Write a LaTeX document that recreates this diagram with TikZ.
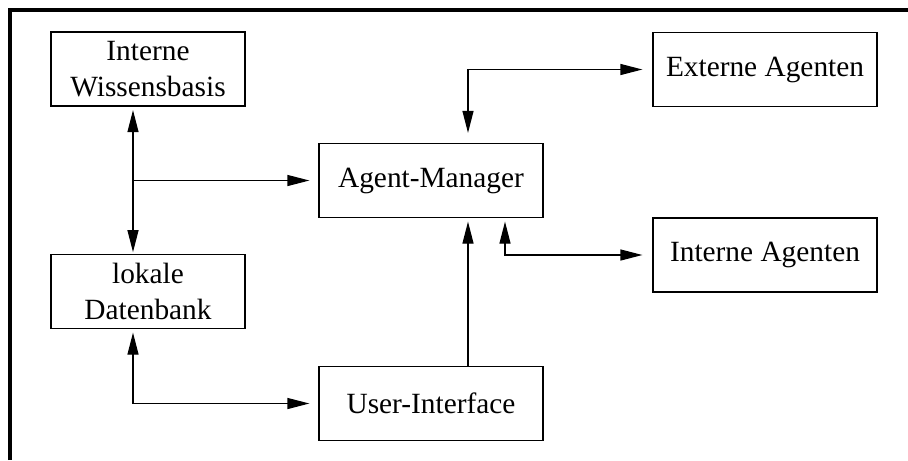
\documentclass[tikz,border=0pt]{standalone}
\usepackage{fontspec}
\setmainfont{Liberation Serif}
\usetikzlibrary{arrows.meta, positioning}

\tikzset{
  bigbox/.style={draw, minimum width=4.48cm, minimum height=1.48cm, align=center, inner sep=2pt, font=\fontsize{16.7}{20.4}\selectfont},
  smallbox/.style={bigbox, minimum width=3.88cm},
}

\begin{document}
\begin{tikzpicture}[>={Triangle[length=4.4mm,width=2.2mm]}, line width=0.7pt]
  \useasboundingbox (0,0) rectangle (18.16,-9.2);
  % Rahmen
  \draw[line width=2.2pt] (0.2,-9.2) -- (0.2,-0.2) -- (18.16,-0.2);

  % Wissensbasis und Datenbank
  \node[smallbox] (wissen) at (2.96,-1.38) {Interne\\Wissensbasis};
  \node[smallbox] (datenbank) at (2.96,-5.83) {lokale\\Datenbank};

  % Agenten
  \node[bigbox] (manager) at (8.62,-3.61) {Agent-Manager};
  \node[bigbox] (ui) at (8.62,-8.07) {User-Interface};
  \node[bigbox] (extern) at (15.3,-1.39) {Externe Agenten};
  \node[bigbox] (intern) at (15.3,-5.10) {Interne Agenten};

  % Verbindungen
  \coordinate (bus) at (2.66,-3.61);
  \draw[<->, shorten <=2pt, shorten >=1pt] (bus |- wissen.south) -- (bus |- datenbank.north);
  \draw[->, shorten >=0.18cm] (bus) -- (manager.west);
  \draw[<->, shorten <=2pt, shorten >=0.18cm] (bus |- datenbank.south) |- (ui.west);
  \draw[<->, shorten <=0.2cm, shorten >=0.2cm] (extern.west) -| ([xshift=0.74cm]manager.north);
  \draw[->, shorten >=2pt] ([xshift=0.74cm]ui.north) -- ([xshift=0.74cm]manager.south);
  \draw[<->, shorten <=0.2cm, shorten >=2pt] (intern.west) -| ([xshift=1.48cm]manager.south);
\end{tikzpicture}
\end{document}
